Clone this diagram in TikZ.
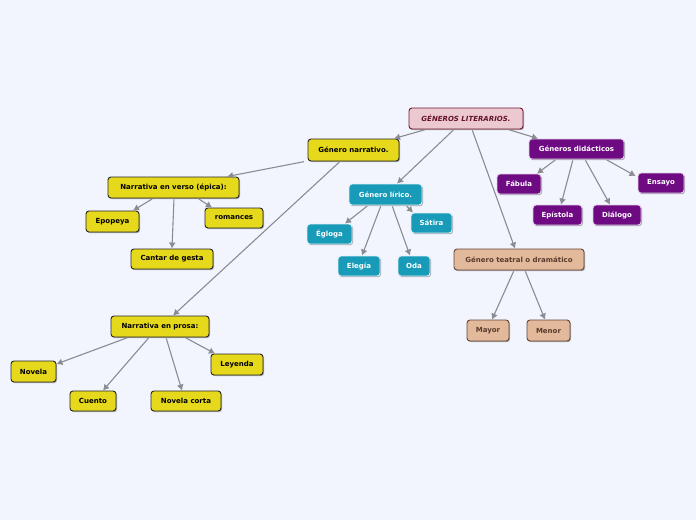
\documentclass[tikz,border=0pt]{standalone}
\usepackage{fontspec}
\setmainfont{DejaVu Sans}
\usetikzlibrary{arrows.meta,shadows}
\definecolor{bgc}{RGB}{242,245,254}
\definecolor{yel}{RGB}{230,216,26}
\definecolor{tealc}{RGB}{23,155,185}
\definecolor{purp}{RGB}{110,10,130}
\definecolor{tanf}{RGB}{226,185,154}
\definecolor{tanb}{RGB}{100,70,55}
\definecolor{tant}{RGB}{90,60,45}
\definecolor{rootf}{RGB}{236,200,208}
\definecolor{rootb}{RGB}{110,25,45}
\definecolor{roott}{RGB}{100,20,40}
\definecolor{linec}{RGB}{138,140,146}
\tikzset{
  box/.style={rounded corners=3pt, inner sep=0pt, line width=0.9pt,
    font=\fontsize{7}{8}\selectfont\bfseries,
    drop shadow={shadow xshift=1pt, shadow yshift=-1.2pt, opacity=0.3, fill=black}},
  yb/.style={box, fill=yel, draw=black!85, text=black},
  tb/.style={box, fill=tealc, draw=white!85!tealc, text=white},
  pb/.style={box, fill=purp, draw=white!80!purp, text=white},
  db/.style={box, fill=tanf, draw=tanb, text=tant},
  rb/.style={box, fill=rootf, draw=rootb, text=roott, font=\fontsize{7}{8}\selectfont\bfseries\itshape},
  conn/.style={draw=linec, line width=1.1pt, shorten <=1pt, -{Latex[length=6pt,width=7pt]}}
}
\begin{document}
\begin{tikzpicture}[x=1pt,y=-1pt]
\fill[bgc] (0,0) rectangle (696,520);
\useasboundingbox (0,0) rectangle (696,520);

\node[rb, minimum width=114pt, minimum height=21pt] (root) at (466,118.5) {GÉNEROS LITERARIOS.};

\node[yb, minimum width=91pt, minimum height=22pt] (narr) at (353.5,150) {Género narrativo.};
\node[yb, minimum width=131pt, minimum height=21pt] (verso) at (173.5,187.5) {Narrativa en verso (épica):};
\node[yb, minimum width=53pt, minimum height=21pt] (epop) at (112.5,221.5) {Epopeya};
\node[yb, minimum width=58pt, minimum height=20pt] (roma) at (234,218) {romances};
\node[yb, minimum width=82pt, minimum height=20pt] (cant) at (172,259) {Cantar de gesta};
\node[yb, minimum width=98pt, minimum height=21pt] (prosa) at (160,326.5) {Narrativa en prosa:};
\node[yb, minimum width=45pt, minimum height=21pt] (nove) at (33.5,371.5) {Novela};
\node[yb, minimum width=46pt, minimum height=20pt] (cuen) at (93,401) {Cuento};
\node[yb, minimum width=70pt, minimum height=20pt] (ncor) at (186,401) {Novela corta};
\node[yb, minimum width=52pt, minimum height=21pt] (leye) at (237,364.5) {Leyenda};

\node[tb, minimum width=73pt, minimum height=21pt] (lir) at (385.5,194.5) {Género lírico.};
\node[tb, minimum width=45pt, minimum height=20pt] (eglo) at (329.5,234) {Égloga};
\node[tb, minimum width=41pt, minimum height=20pt] (sati) at (431.5,223) {Sátira};
\node[tb, minimum width=42pt, minimum height=20pt] (eleg) at (359,266) {Elegía};
\node[tb, minimum width=32pt, minimum height=20pt] (oda) at (414,266) {Oda};

\node[pb, minimum width=95pt, minimum height=20pt] (did) at (576.5,149) {Géneros didácticos};
\node[pb, minimum width=44pt, minimum height=20pt] (fabu) at (519,184) {Fábula};
\node[pb, minimum width=46pt, minimum height=20pt] (ensa) at (661,183) {Ensayo};
\node[pb, minimum width=49pt, minimum height=20pt] (epis) at (557.5,215) {Epístola};
\node[pb, minimum width=48pt, minimum height=20pt] (dial) at (617,215) {Diálogo};

\node[db, minimum width=130pt, minimum height=21pt] (teat) at (519,259.5) {Género teatral o dramático};
\node[db, minimum width=42pt, minimum height=21pt] (mayo) at (488,330.5) {Mayor};
\node[db, minimum width=43pt, minimum height=21pt] (meno) at (548.5,330.5) {Menor};

% connectors
\draw[conn] ([xshift=-40pt]root.south) -- ([xshift=40.5pt]narr.north);
\draw[conn] ([xshift=-12pt]root.south) -- ([xshift=11.5pt]lir.north);
\draw[conn] ([xshift=6pt]root.south) -- ([xshift=-4pt]teat.north);
\draw[conn] ([xshift=42pt]root.south) -- ([xshift=-38.5pt]did.north);

\draw[conn] ([xshift=-48.5pt]narr.south) -- ([xshift=53.5pt]verso.north);
\draw[conn] ([xshift=-13.5pt]narr.south) -- ([xshift=13pt]prosa.north);

\draw[conn] ([xshift=-20.5pt]verso.south) -- ([xshift=20.5pt]epop.north);
\draw[conn] ([xshift=0.5pt]verso.south) -- (cant.north);
\draw[conn] ([xshift=24.5pt]verso.south) -- ([xshift=-22pt]roma.north);

\draw[conn] ([xshift=-32pt]prosa.south) -- ([yshift=7.5pt]nove.east);
\draw[conn] ([xshift=-11pt]prosa.south) -- ([xshift=10pt]cuen.north);
\draw[conn] ([xshift=6pt]prosa.south) -- ([xshift=-4pt]ncor.north);
\draw[conn] ([xshift=25pt]prosa.south) -- ([xshift=-22pt]leye.north);

\draw[conn] ([xshift=-17.5pt]lir.south) -- ([xshift=15.5pt]eglo.north);
\draw[conn] ([xshift=-4.5pt]lir.south) -- ([xshift=3pt]eleg.north);
\draw[conn] ([xshift=6.5pt]lir.south) -- ([xshift=-4pt]oda.north);
\draw[conn] ([xshift=20.5pt]lir.south) -- ([xshift=-18.5pt]sati.north);

\draw[conn] ([xshift=-20.5pt]did.south) -- ([xshift=18pt]fabu.north);
\draw[conn] ([xshift=-3.5pt]did.south) -- ([xshift=3.5pt]epis.north);
\draw[conn] ([xshift=8.5pt]did.south) -- ([xshift=-7pt]dial.north);
\draw[conn] ([xshift=29.5pt]did.south) -- ([xshift=-2pt,yshift=7pt]ensa.west);

\draw[conn] ([xshift=-5pt]teat.south) -- ([xshift=4pt]mayo.north);
\draw[conn] ([xshift=6pt]teat.south) -- ([xshift=-3.5pt]meno.north);
\end{tikzpicture}
\end{document}
